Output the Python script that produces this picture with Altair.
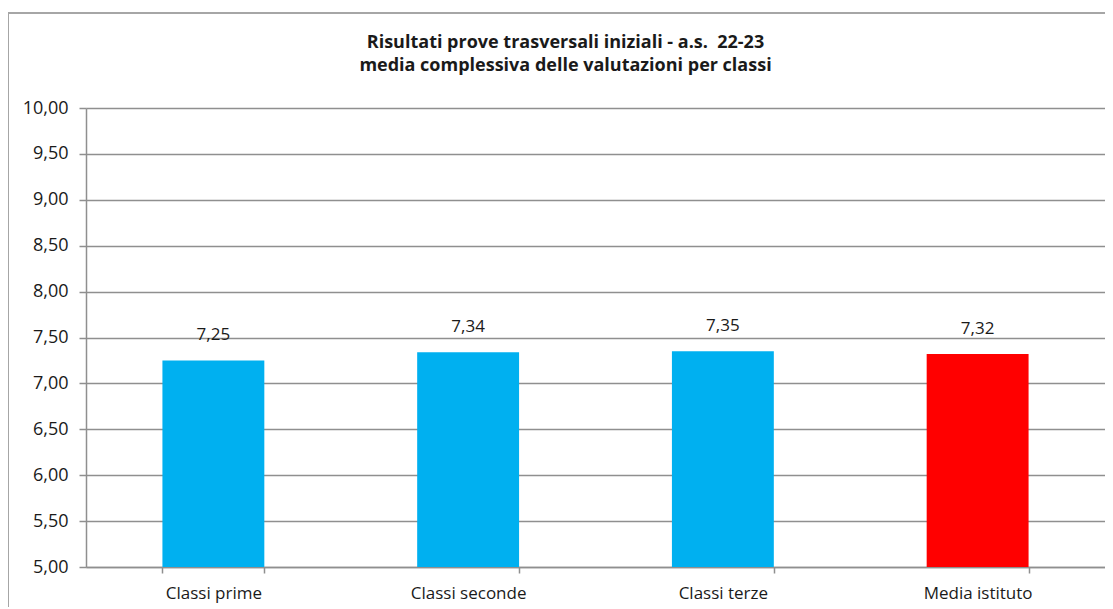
import altair as alt
import pandas as pd

categories = ["Classi prime", "Classi seconde", "Classi terze", "Media istituto"]
values = [7.25, 7.34, 7.35, 7.32]
colors = ["#00B0F0", "#00B0F0", "#00B0F0", "#FF0000"]
y_ticks = [5.0, 5.5, 6.0, 6.5, 7.0, 7.5, 8.0, 8.5, 9.0, 9.5, 10.0]
y_min, y_max = 5, 10
title_lines = ["Risultati prove trasversali iniziali - a.s.\u00a0 22-23",
               "media complessiva delle valutazioni per classi"]

df = pd.DataFrame({"cat": categories, "v": values, "col": colors})

W, H = 1019, 459
FONT = "Open Sans"
GRID = "#8f8f8f"
FS = 17

base = alt.Chart(df)

bars = base.mark_bar().encode(
    x=alt.X("cat:N", sort=categories, title=None,
            scale=alt.Scale(paddingInner=0.6, paddingOuter=0.3),
            axis=alt.Axis(tickBand="extent", labelAngle=0, labelFontSize=FS,
                          labelFont=FONT, labelColor="#1a1a1a", labelPadding=12,
                          tickSize=6, tickColor=GRID, tickWidth=1.5,
                          domainColor=GRID, domainWidth=1.5, grid=False)),
    y=alt.Y("v:Q", title=None,
            scale=alt.Scale(domain=[y_min, y_max], zero=False, nice=False),
            axis=alt.Axis(values=y_ticks,
                          labelExpr="replace(format(datum.value, '.2f'), '.', ',')",
                          labelFontSize=18, labelFont=FONT, labelColor="#1a1a1a",
                          labelPadding=11, tickSize=7, tickColor=GRID, tickWidth=1.5,
                          domainColor=GRID, domainWidth=1.5,
                          grid=True, gridColor=GRID, gridWidth=1.5)),
    y2=alt.datum(y_min),
    color=alt.Color("col:N", scale=None, legend=None),
)

labels = base.transform_calculate(
    lab="replace(format(datum.v, '.2f'), '.', ',')"
).mark_text(font=FONT, fontSize=FS, color="#1a1a1a", baseline="alphabetic",
            dy=-20).encode(
    x=alt.X("cat:N", sort=categories),
    y=alt.Y("v:Q"),
    text="lab:N",
)

frame_top = base.mark_rule(color="#a6a6a6", strokeWidth=2).encode(
    x=alt.value(-78), x2=alt.value(W + 30), y=alt.value(-95)
)
frame_left = base.mark_rule(color="#a6a6a6", strokeWidth=2).encode(
    x=alt.value(-78), y=alt.value(-95), y2=alt.value(H + 60)
)

chart = alt.layer(frame_top, frame_left, bars, labels).properties(
    width=W, height=H,
    title=alt.TitleParams(title_lines, font=FONT, fontSize=18, fontWeight="bold",
                          color="#1a1a1a", anchor="middle", frame="group",
                          dx=-30, dy=63, offset=0, lineHeight=23),
    autosize=alt.AutoSizeParams(type="none"),
    padding={"left": 78, "top": 100, "right": 0, "bottom": 40},
).configure_view(stroke=None)

chart.save("out.html", embed_options={"renderer": "svg", "actions": False})
